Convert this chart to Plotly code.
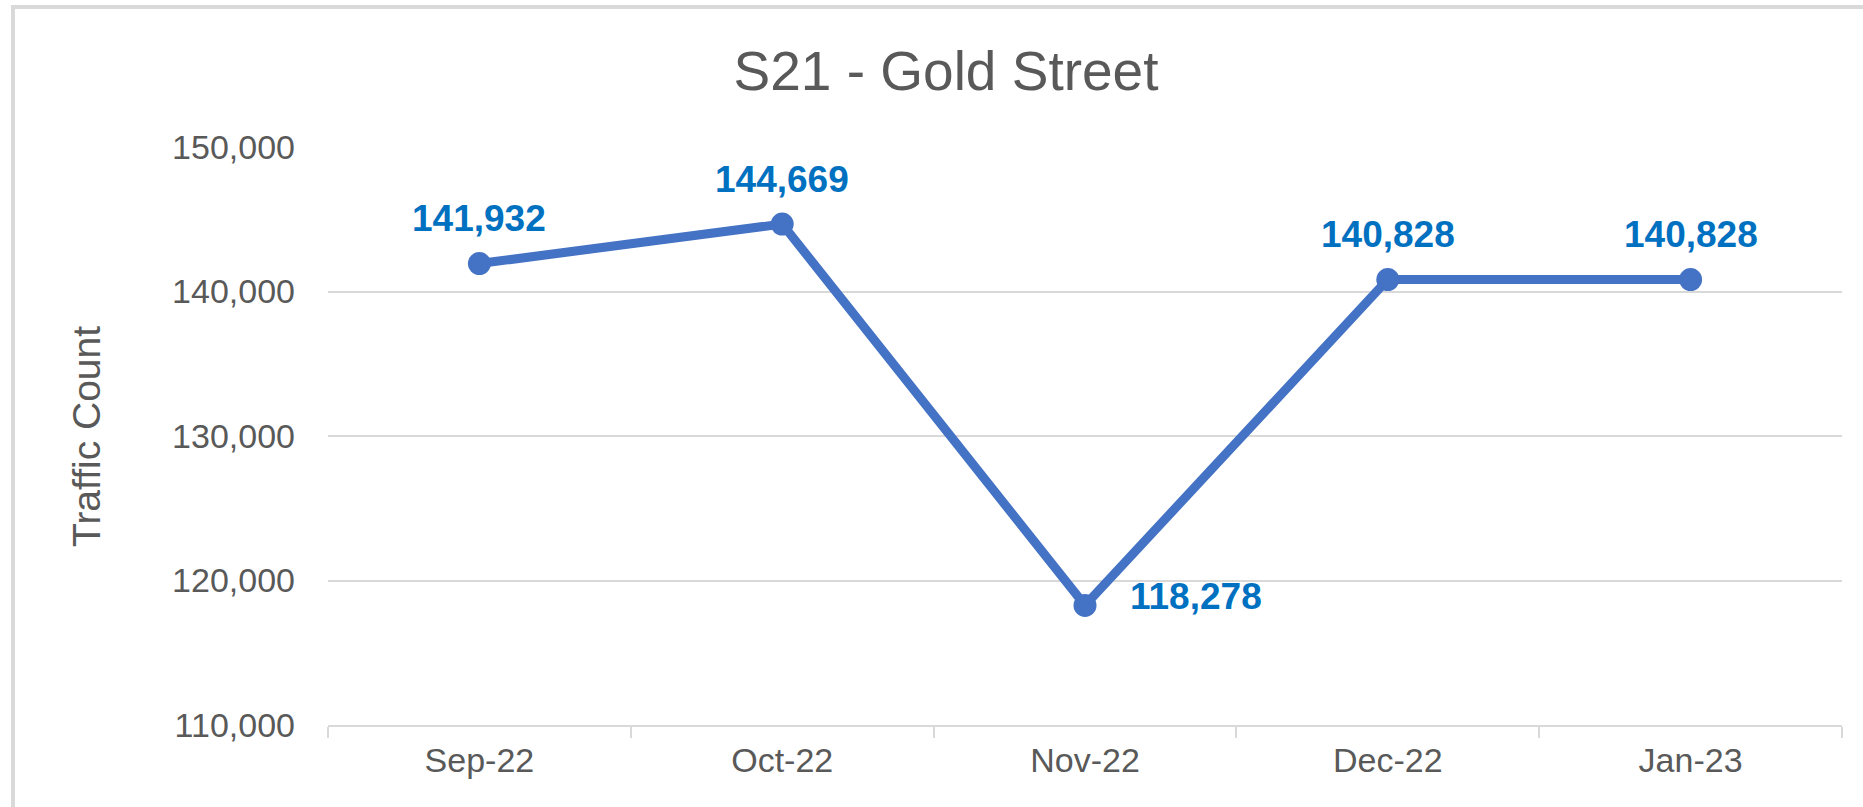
import plotly.graph_objects as go

# data
months = ["Sep-22", "Oct-22", "Nov-22", "Dec-22", "Jan-23"]
traffic = [141932, 144669, 118278, 140828, 140828]
y_ticks = [110000, 120000, 130000, 140000, 150000]

W, H = 1863, 807
L, R, T, B = 328, 21, 147, 82

LINE_BLUE = "#4472C4"
LABEL_BLUE = "#0070C0"
GREY_TEXT = "#595959"
GRID = "#D9D9D9"
FONT = "Liberation Sans, Arial, sans-serif"

fig = go.Figure()

fig.add_trace(go.Scatter(x=months, y=traffic, mode="lines+markers",
                         line=dict(color=LINE_BLUE, width=9),
                         marker=dict(size=23, color=LINE_BLUE),
                         hoverinfo="x+y", cliponaxis=False))

# data labels, above the point except the dip which goes to the right
for m, v in zip(months, traffic):
    low = v == min(traffic)
    fig.add_annotation(x=m, y=v, text=f"{v:,}", showarrow=False,
                       font=dict(family=FONT, size=37, color=LABEL_BLUE, weight="bold"),
                       xanchor="left" if low else "center", yanchor="middle",
                       xshift=43 if low else 0, yshift=9 if low else 45)

plot_w = W - L - R
plot_h = H - T - B

fig.add_annotation(xref="paper", yref="paper", x=(86 - L) / plot_w, y=0.5,
                   text="Traffic Count", textangle=-90, showarrow=False,
                   font=dict(family=FONT, size=39, color=GREY_TEXT),
                   xanchor="center", yanchor="middle")

# outer chart border (right and bottom edges fall outside the picture)
fig.add_shape(type="rect", xref="paper", yref="paper",
              x0=(13 - L) / plot_w, x1=(W + 20 - L) / plot_w,
              y0=-0.5, y1=(H - B - 7) / plot_h,
              line=dict(color=GRID, width=4), fillcolor="rgba(0,0,0,0)", layer="below")

fig.update_layout(
    width=W, height=H, autosize=False,
    margin=dict(l=L, r=R, t=T, b=B),
    paper_bgcolor="white", plot_bgcolor="white",
    showlegend=False,
    font=dict(family=FONT, color=GREY_TEXT),
    title=dict(text="S21 - Gold Street", xref="container", x=946 / W,
               y=1 - 71 / H, xanchor="center", yanchor="middle",
               font=dict(family=FONT, size=55, color=GREY_TEXT)),
    xaxis=dict(type="category", range=[-0.5, len(months) - 0.5],
               showgrid=False, showline=True, linecolor=GRID, linewidth=2,
               ticks="outside", tickson="boundaries", ticklen=11, tickcolor=GRID, tickwidth=2,
               ticklabelstandoff=4,
               tickfont=dict(family=FONT, size=34, color=GREY_TEXT)),
    yaxis=dict(range=[110000, 150000], tickvals=y_ticks, tickformat=",",
               showgrid=True, gridcolor=GRID, gridwidth=2, zeroline=False, showline=False,
               ticks="", ticklabelstandoff=32,
               tickfont=dict(family=FONT, size=34, color=GREY_TEXT)),
)

# drop the default page margin so the figure sits at the top-left corner
fig.write_html("out.html", config={"displayModeBar": False},
               post_script="document.body.style.margin='0';")
